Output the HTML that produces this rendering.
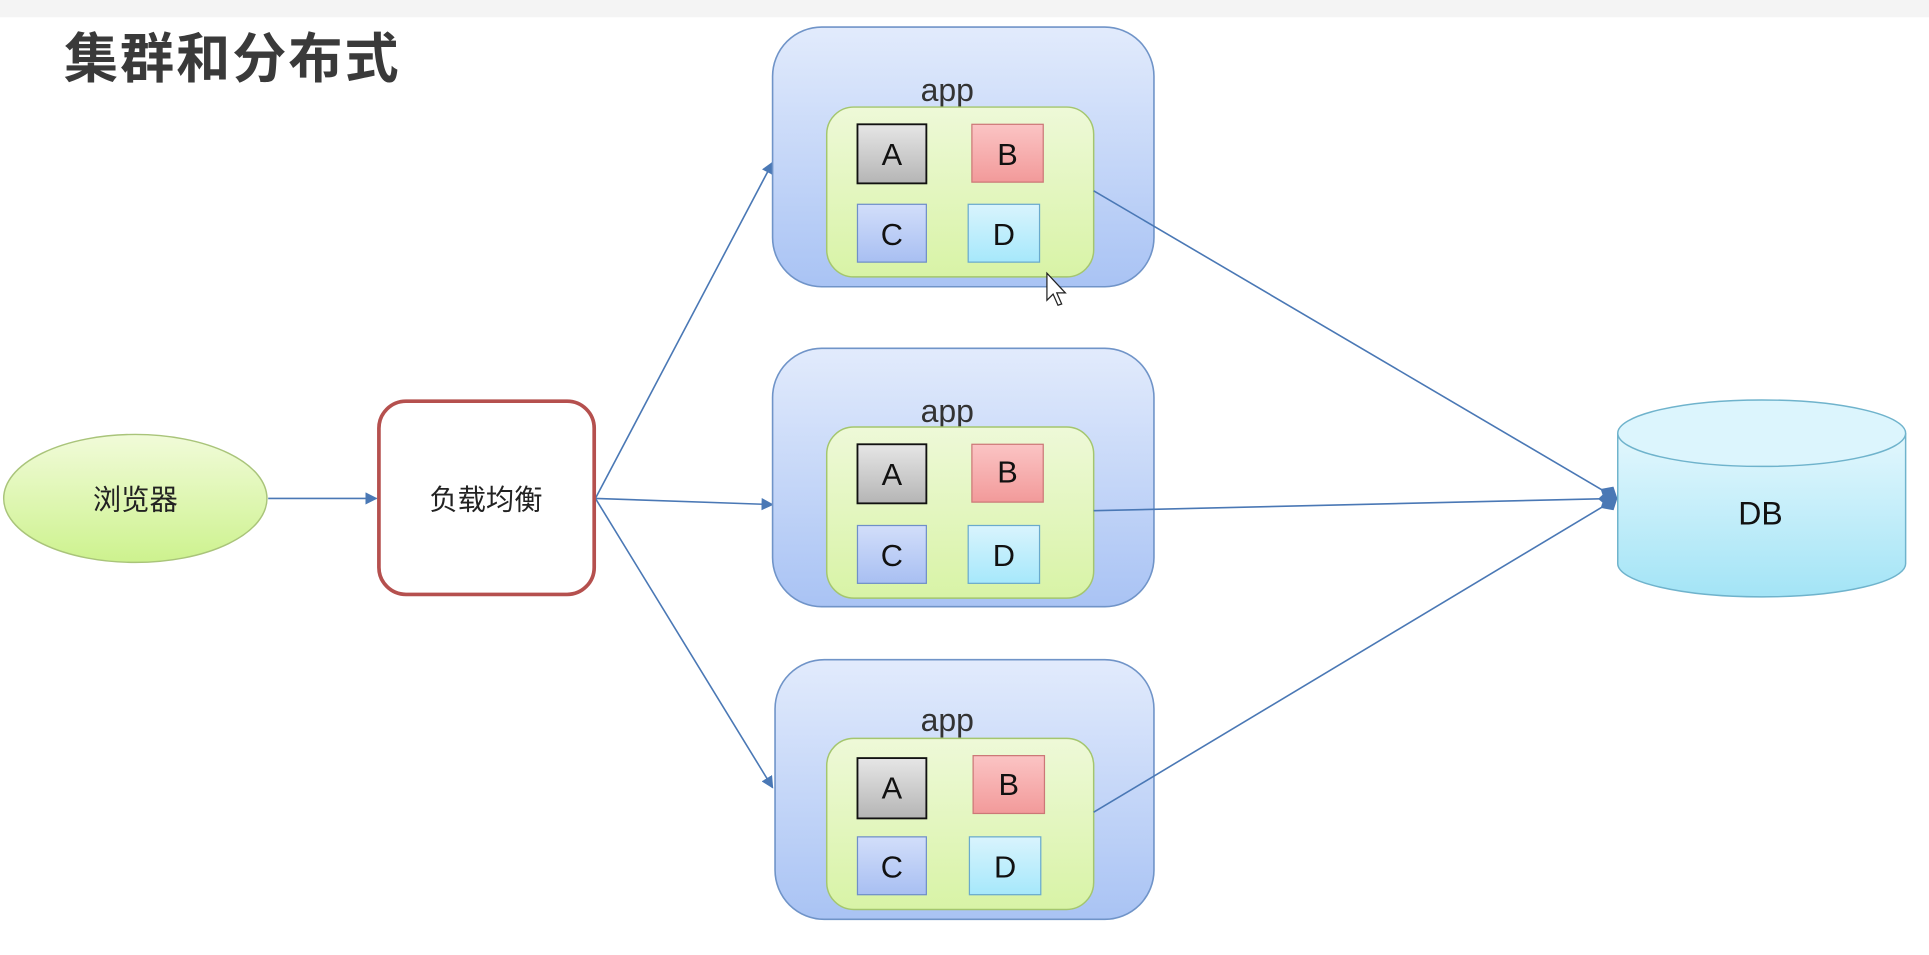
<!DOCTYPE html>
<html><head><meta charset="utf-8"><style>
html,body{margin:0;padding:0;background:#fff;width:1929px;height:955px;overflow:hidden}
svg{display:block}
text{font-family:"Liberation Sans","Noto Sans CJK SC",sans-serif}
</style></head><body>
<svg width="1929" height="955" viewBox="0 0 1568 776" preserveAspectRatio="none" xmlns="http://www.w3.org/2000/svg">
<defs>
<linearGradient id="gApp" x1="0" y1="0" x2="0" y2="1"><stop offset="0" stop-color="#e2ebfc"/><stop offset="1" stop-color="#a9c3f4"/></linearGradient>
<linearGradient id="gIn" x1="0" y1="0" x2="0" y2="1"><stop offset="0" stop-color="#eef9d8"/><stop offset="1" stop-color="#d8f3a6"/></linearGradient>
<linearGradient id="gA" x1="0" y1="0" x2="0" y2="1"><stop offset="0" stop-color="#e6e6e6"/><stop offset="1" stop-color="#b5b5b5"/></linearGradient>
<linearGradient id="gB" x1="0" y1="0" x2="0" y2="1"><stop offset="0" stop-color="#fbc4c4"/><stop offset="1" stop-color="#f29a9a"/></linearGradient>
<linearGradient id="gC" x1="0" y1="0" x2="0" y2="1"><stop offset="0" stop-color="#d2defa"/><stop offset="1" stop-color="#a8bff2"/></linearGradient>
<linearGradient id="gD" x1="0" y1="0" x2="0" y2="1"><stop offset="0" stop-color="#d9f4fd"/><stop offset="1" stop-color="#a6e8fb"/></linearGradient>
<linearGradient id="gBr" x1="0" y1="0" x2="0" y2="1"><stop offset="0" stop-color="#f1fbd9"/><stop offset="1" stop-color="#cdf28e"/></linearGradient>
<linearGradient id="gDB" x1="0" y1="0" x2="0" y2="1"><stop offset="0" stop-color="#e3f7fd"/><stop offset="1" stop-color="#a3e4f6"/></linearGradient>
<marker id="ar" markerWidth="10" markerHeight="10" refX="9" refY="5" orient="auto" markerUnits="userSpaceOnUse"><path d="M0,0 L10,5 L0,10 z" fill="#4a78b5"/></marker>
<marker id="dm" markerWidth="16" markerHeight="14" refX="15" refY="7" orient="auto" markerUnits="userSpaceOnUse"><path d="M0,7 L8,0 L16,7 L8,14 z" fill="#4a78b5"/></marker>
</defs>
<rect x="0" y="0" width="1568" height="14" fill="#f4f4f4"/>
<text x="52" y="63" font-size="44" font-weight="bold" fill="#3a3a3a" textLength="272">集群和分布式</text>

<g stroke="#4a78b5" stroke-width="1.3" fill="none">
<line x1="218" y1="405" x2="306" y2="405" marker-end="url(#ar)"/>
<line x1="484" y1="405" x2="628" y2="132" marker-end="url(#ar)"/>
<line x1="484" y1="405" x2="628" y2="410" marker-end="url(#ar)"/>
<line x1="484" y1="405" x2="628" y2="640" marker-end="url(#ar)"/>
</g>

<ellipse cx="110" cy="405" rx="107" ry="52" fill="url(#gBr)" stroke="#a9c47a" stroke-width="1.2"/>
<text x="110" y="414" font-size="23" text-anchor="middle" fill="#222">浏览器</text>

<rect x="308" y="326" width="175" height="157" rx="22" fill="#fff" stroke="#b5504e" stroke-width="3"/>
<text x="395" y="414" font-size="23" text-anchor="middle" fill="#222">负载均衡</text>

<g>
<rect x="628" y="22" width="310" height="211" rx="40" fill="url(#gApp)" stroke="#7094c8" stroke-width="1.3"/>
<text x="770" y="82" font-size="26" text-anchor="middle" fill="#333">app</text>
<rect x="672" y="87" width="217" height="138" rx="22" fill="url(#gIn)" stroke="#a4c66e" stroke-width="1.2"/>
<rect x="697" y="101" width="56" height="48" fill="url(#gA)" stroke="#111" stroke-width="1.5"/>
<rect x="790" y="101" width="58" height="47" fill="url(#gB)" stroke="#c77" stroke-width="1"/>
<rect x="697" y="166" width="56" height="47" fill="url(#gC)" stroke="#6f8fc8" stroke-width="1"/>
<rect x="787" y="166" width="58" height="47" fill="url(#gD)" stroke="#6aaacc" stroke-width="1"/>
<g font-size="25" text-anchor="middle" fill="#111"><text x="725" y="134">A</text><text x="819" y="134">B</text><text x="725" y="199">C</text><text x="816" y="199">D</text></g>
</g>
<g transform="translate(0,261)">
<rect x="628" y="22" width="310" height="210" rx="40" fill="url(#gApp)" stroke="#7094c8" stroke-width="1.3"/>
<text x="770" y="82" font-size="26" text-anchor="middle" fill="#333">app</text>
<rect x="672" y="86" width="217" height="139" rx="22" fill="url(#gIn)" stroke="#a4c66e" stroke-width="1.2"/>
<rect x="697" y="100" width="56" height="48" fill="url(#gA)" stroke="#111" stroke-width="1.5"/>
<rect x="790" y="100" width="58" height="47" fill="url(#gB)" stroke="#c77" stroke-width="1"/>
<rect x="697" y="166" width="56" height="47" fill="url(#gC)" stroke="#6f8fc8" stroke-width="1"/>
<rect x="787" y="166" width="58" height="47" fill="url(#gD)" stroke="#6aaacc" stroke-width="1"/>
<g font-size="25" text-anchor="middle" fill="#111"><text x="725" y="133">A</text><text x="819" y="131">B</text><text x="725" y="199">C</text><text x="816" y="199">D</text></g>
</g>
<g transform="translate(2,514)">
<rect x="628" y="22" width="308" height="211" rx="40" fill="url(#gApp)" stroke="#7094c8" stroke-width="1.3"/>
<text x="768" y="80" font-size="26" text-anchor="middle" fill="#333">app</text>
<rect x="670" y="86" width="217" height="139" rx="22" fill="url(#gIn)" stroke="#a4c66e" stroke-width="1.2"/>
<rect x="695" y="102" width="56" height="49" fill="url(#gA)" stroke="#111" stroke-width="1.5"/>
<rect x="789" y="100" width="58" height="47" fill="url(#gB)" stroke="#c77" stroke-width="1"/>
<rect x="695" y="166" width="56" height="47" fill="url(#gC)" stroke="#6f8fc8" stroke-width="1"/>
<rect x="786" y="166" width="58" height="47" fill="url(#gD)" stroke="#6aaacc" stroke-width="1"/>
<g font-size="25" text-anchor="middle" fill="#111"><text x="723" y="135">A</text><text x="818" y="132">B</text><text x="723" y="199">C</text><text x="815" y="199">D</text></g>
</g>

<g stroke="#4a78b5" stroke-width="1.3" fill="none">
<line x1="889" y1="155" x2="1314" y2="405" marker-end="url(#dm)"/>
<line x1="889" y1="415" x2="1314" y2="405" marker-end="url(#dm)"/>
<line x1="889" y1="660" x2="1314" y2="405" marker-end="url(#dm)"/>
</g>

<path d="M1315,352 L1315,458 A117,27 0 0 0 1549,458 L1549,352" fill="url(#gDB)" stroke="#6fb3cc" stroke-width="1.2"/>
<ellipse cx="1432" cy="352" rx="117" ry="27" fill="#dcf5fd" stroke="#6fb3cc" stroke-width="1.2"/>
<text x="1431" y="426" font-size="26" text-anchor="middle" fill="#111">DB</text>

<path d="M851,222 L851,244 L856,239 L860,248 L863,247 L859,238 L866,238 z" fill="#fff" stroke="#222" stroke-width="1"/>
</svg>
</body></html>
